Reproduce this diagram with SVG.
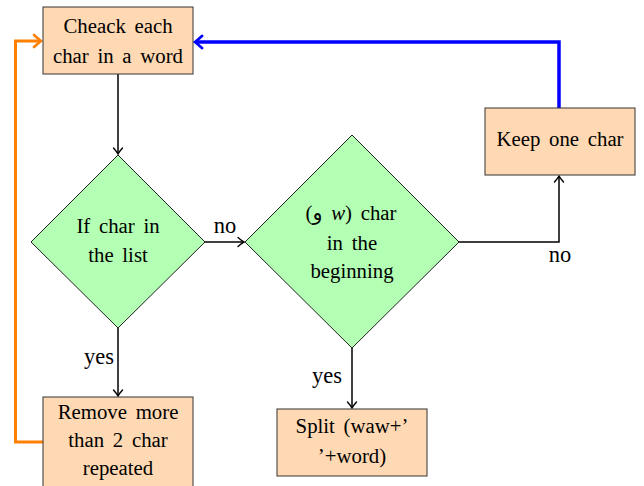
<svg xmlns="http://www.w3.org/2000/svg" width="644" height="486" viewBox="0 0 644 486">
<style>
text{font-family:"Liberation Serif","DejaVu Serif","DejaVu Sans",serif;font-size:20.8px;fill:#000;text-anchor:middle;word-spacing:3.5px}
text.lbl{font-size:22.5px}
.box{fill:#FFD9B3;stroke:#333;stroke-width:1}
.dia{fill:#B3FFB3;stroke:#222;stroke-width:1}
.arr{fill:none;stroke:#000;stroke-width:1.5}
.or{fill:none;stroke:#FF8000;stroke-width:3}
.bl{fill:none;stroke:#0000FF;stroke-width:3.5}
</style>
<defs>
<marker id="ab" viewBox="-8 -6 10 12" markerWidth="10" markerHeight="12" refX="0" refY="0" orient="auto" markerUnits="userSpaceOnUse">
<path d="M-6,-4.5 Q-2,-1 0,0 Q-2,1 -6,4.5" fill="none" stroke="#000" stroke-width="1.4" stroke-linecap="round"/>
</marker>
<marker id="ao" viewBox="-10 -8 12 16" markerWidth="12" markerHeight="16" refX="0" refY="0" orient="auto" markerUnits="userSpaceOnUse">
<path d="M-7,-6 Q-2,-1.5 0,0 Q-2,1.5 -7,6" fill="none" stroke="#FF8000" stroke-width="2.6" stroke-linecap="round"/>
</marker>
<marker id="abl" viewBox="-10 -8 12 16" markerWidth="12" markerHeight="16" refX="0" refY="0" orient="auto" markerUnits="userSpaceOnUse">
<path d="M-7,-6 Q-2,-1.5 0,0 Q-2,1.5 -7,6" fill="none" stroke="#0000FF" stroke-width="2.8" stroke-linecap="round"/>
</marker>
</defs>
<g id="connectors">
<path class="arr" d="M118,74 V154" marker-end="url(#ab)"/>
<path class="arr" d="M205,242 H244" marker-end="url(#ab)"/>
<path class="arr" d="M459,242 H559 V176" marker-end="url(#ab)"/>
<path class="arr" d="M118,328 V396" marker-end="url(#ab)"/>
<path class="arr" d="M352,348 V408" marker-end="url(#ab)"/>
<path class="bl" d="M559,108 V42 H195" marker-end="url(#abl)"/>
<path class="or" d="M43,442 H15.5 V41 H41" marker-end="url(#ao)"/>
<text class="lbl" x="225" y="233">no</text>
<text class="lbl" x="560" y="262">no</text>
<text class="lbl" x="99" y="364">yes</text>
<text class="lbl" x="327" y="383">yes</text>
</g>
<g id="check">
<rect class="box" x="43" y="7" width="150" height="67"/>
<text x="118" y="33">Cheack each</text>
<text x="118" y="63">char in a word</text>
</g>
<g id="inlist">
<polygon class="dia" points="118,155 205,242 118,328 31,242"/>
<text x="118" y="233">If char in</text>
<text x="118" y="262">the list</text>
</g>
<g id="beginning">
<polygon class="dia" points="352,135 459,242 352,348 245,242"/>
<text x="351" y="220">(و <tspan font-style="italic">w</tspan>) char</text>
<text x="352" y="250">in the</text>
<text x="352" y="278">beginning</text>
</g>
<g id="keep">
<rect class="box" x="485" y="108" width="150" height="67"/>
<text x="560" y="146">Keep one char</text>
</g>
<g id="remove">
<rect class="box" x="43" y="397" width="150" height="92"/>
<text x="118" y="419">Remove more</text>
<text x="118" y="447">than 2 char</text>
<text x="118" y="475">repeated</text>
</g>
<g id="split">
<rect class="box" x="277" y="409" width="150" height="67"/>
<text x="352" y="433">Split (waw+’</text>
<text x="352" y="463">’+word)</text>
</g>
</svg>
